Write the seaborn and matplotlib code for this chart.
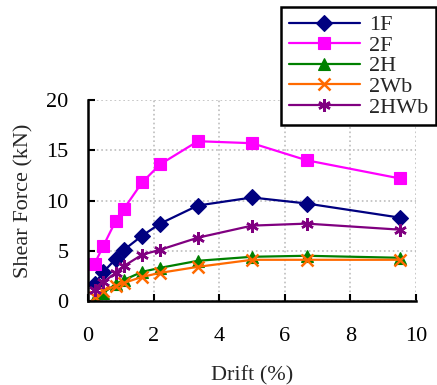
import numpy as np
import pandas as pd
import seaborn as sns
import matplotlib
matplotlib.use('Agg')
import matplotlib.pyplot as plt

# drift (%) at each load step
drift = [0.2, 0.47, 0.85, 1.1, 1.65, 2.2, 3.35, 5.0, 6.67, 9.5]

f_1F = [1.7, 2.9, 4.2, 5.1, 6.5, 7.7, 9.5, 10.3, 9.7, 8.3]
f_2F = [3.7, 5.5, 8.0, 9.2, 11.8, 13.6, 15.9, 15.7, 14.0, 12.2]
f_2H = [0.3, 0.8, 1.7, 2.1, 2.9, 3.3, 4.0, 4.4, 4.5, 4.3]
f_2Wb = [0.4, 1.0, 1.5, 1.8, 2.4, 2.8, 3.4, 4.1, 4.1, 4.1]
f_2HWb = [1.1, 1.9, 2.8, 3.5, 4.6, 5.1, 6.3, 7.5, 7.7, 7.1]

names = ["1F", "2F", "2H", "2Wb", "2HWb"]
series = [f_1F, f_2F, f_2H, f_2Wb, f_2HWb]

colors = ["#000080", "#FF00FF", "#008000", "#FF6A00", "#800080"]
markers = ["D", "s", "^", "x", (6, 2, 0)]
msizes = [8, 9, 9, 9, 9]

sns.set_style("ticks")
plt.rcParams['font.family'] = ['Liberation Serif', 'DejaVu Serif']
plt.rcParams['font.size'] = 16

fig = plt.figure(figsize=(4.37, 3.85), dpi=100)
ax = fig.add_axes([88 / 437, 84 / 385, 328 / 437, 201 / 385])

for name, vals, c, m, ms in zip(names, series, colors, markers, msizes):
    df = pd.DataFrame({"Drift": drift, "Force": vals})
    sns.lineplot(data=df, x="Drift", y="Force", ax=ax, color=c, marker=m,
                 markersize=ms, markeredgecolor=c, markeredgewidth=1.8 if m in ("x", (6, 2, 0)) else 0.8,
                 linewidth=1.6, label=name)

ax.set_xlim(0, 10)
ax.set_ylim(0, 20)
ax.set_xticks(np.arange(0, 11, 2))
ax.set_yticks(np.arange(0, 21, 5))
ax.grid(True, linestyle=":", color="#bdbdbd", linewidth=1.2)
ax.set_axisbelow(True)
for s in ["top", "right"]:
    ax.spines[s].set_visible(False)
for s in ["left", "bottom"]:
    ax.spines[s].set_linewidth(1.8)
    ax.spines[s].set_color("black")
ax.tick_params(axis="both", direction="in", length=5, width=1.5, colors="black", labelsize=16)
ax.tick_params(axis="x", pad=19)
ax.tick_params(axis="y", pad=14)
ax.set_xlabel("Drift (%)", fontsize=16, labelpad=14)
ax.set_ylabel("Shear Force (kN)", fontsize=16, labelpad=9)

leg = ax.legend(loc="upper left", bbox_to_anchor=(281 / 437, 1 - 7 / 385), bbox_transform=fig.transFigure,
                borderaxespad=0, frameon=True, fancybox=False, edgecolor="black", framealpha=1,
                handlelength=3.2, handletextpad=0.4, borderpad=0.35, labelspacing=0.0, fontsize=16)
leg.get_frame().set_linewidth(1.8)

fig.savefig("out.png", dpi=100)
